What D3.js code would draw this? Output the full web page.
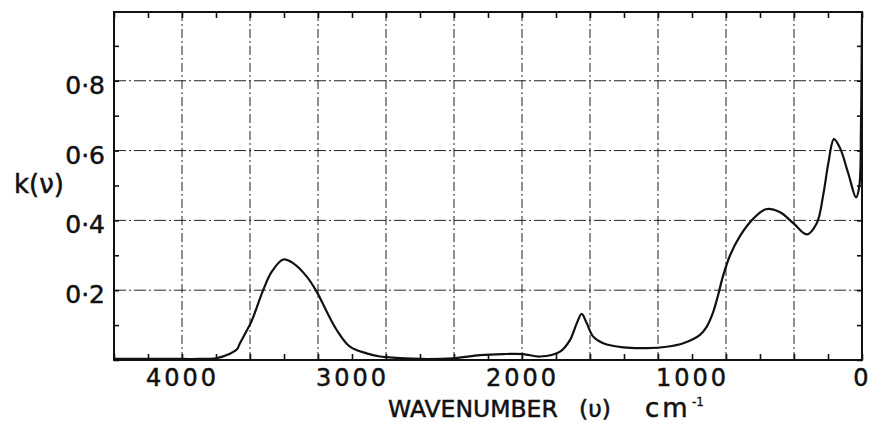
<!DOCTYPE html>
<html>
<head>
<meta charset="utf-8">
<script src="https://cdn.jsdelivr.net/npm/d3@7"></script>
<style>
  body { margin:0; background:#fff; }
  text { font-family:"DejaVu Sans", sans-serif; fill:#111; stroke:#111; stroke-width:0.5px; }
</style>
</head>
<body>
<div id="chart"></div>
<script>
let w=873;
let h=422;

// wavenumber (cm-1) and absorption index k
let wavenumber=[4400,4200,4000,3900,3800,3718,3678,3659,3618,3590,3522,3472,3404,3345,3266,3208,3149,3090,3012,2914,2835,2796,2600,2406,2247,2112,1994,1894,1776,1718,1678,1649,1619,1581,1522,1404,1266,1149,1051,953,914,875,847,816,776,718,639,565,482,404,325,266,228,198,165,129,81,35,16,6,2,0];
let kValues=[0.003,0.003,0.003,0.003,0.005,0.018,0.030,0.048,0.085,0.112,0.201,0.253,0.288,0.277,0.239,0.196,0.139,0.086,0.038,0.019,0.010,0.008,0.003,0.005,0.014,0.017,0.017,0.010,0.024,0.057,0.105,0.132,0.105,0.067,0.048,0.036,0.034,0.038,0.048,0.072,0.095,0.138,0.185,0.243,0.300,0.355,0.405,0.432,0.423,0.392,0.360,0.392,0.473,0.564,0.633,0.607,0.535,0.466,0.497,0.668,0.86,0.99];

let xTickLabels=[4000,3000,2000,1000,0];
let yTickLabels=[0.2,0.4,0.6,0.8];
let xGrid=[4000,3600,3200,2800,2400,2000,1600,1200,800,400];
let yGrid=[0.2,0.4,0.6,0.8];

let padLeft=114, padRight=862, padTop=12, padBottom=360;

let svg=d3.select("#chart").append("svg")
  .attr("width",w)
  .attr("height",h);

let xScale=d3.scaleLinear().domain([4400,0]).range([padLeft,padRight]);
let yScale=d3.scaleLinear().domain([0,0.997]).range([padBottom,padTop]);

// grid
svg.append("g").selectAll("line").data(xGrid).enter()
  .append("line")
  .attr("x1",d=>xScale(d)).attr("x2",d=>xScale(d))
  .attr("y1",padTop).attr("y2",padBottom)
  .attr("stroke","#222")
  .attr("stroke-width",1)
  .attr("stroke-dasharray","9,3,2,3");

svg.append("g").selectAll("line").data(yGrid).enter()
  .append("line")
  .attr("y1",d=>yScale(d)).attr("y2",d=>yScale(d))
  .attr("x1",padLeft).attr("x2",padRight)
  .attr("stroke","#222")
  .attr("stroke-width",1)
  .attr("stroke-dasharray","12,3,2,3");

// inward ticks on all four sides
let xTicks=d3.range(4400,-1,-200);
let yTicks=d3.range(0,1.0,0.1);

svg.append("g").attr("transform","translate(0,"+padBottom+")")
  .call(d3.axisTop(xScale).tickValues(xTicks).tickSize(6).tickFormat(""))
  .call(g=>g.select(".domain").remove());
svg.append("g").attr("transform","translate(0,"+padTop+")")
  .call(d3.axisBottom(xScale).tickValues(xTicks).tickSize(6).tickFormat(""))
  .call(g=>g.select(".domain").remove());
svg.append("g").attr("transform","translate("+padLeft+",0)")
  .call(d3.axisRight(yScale).tickValues(yTicks).tickSize(5).tickFormat(""))
  .call(g=>g.select(".domain").remove());
svg.append("g").attr("transform","translate("+padRight+",0)")
  .call(d3.axisLeft(yScale).tickValues(yTicks).tickSize(5).tickFormat(""))
  .call(g=>g.select(".domain").remove());
svg.selectAll(".tick line").attr("stroke","#111").attr("stroke-width",1.6);

// frame
svg.append("rect")
  .attr("x",padLeft).attr("y",padTop)
  .attr("width",padRight-padLeft).attr("height",padBottom-padTop)
  .attr("fill","none")
  .attr("stroke","#111")
  .attr("stroke-width",2);

// tick labels
let xLab=svg.append("g").attr("transform","translate(0,"+padBottom+")")
  .call(d3.axisBottom(xScale).tickValues(xTickLabels).tickSize(0).tickPadding(9).tickFormat(d3.format("d")));
xLab.select(".domain").remove();
xLab.selectAll("text")
  .style("font-family","'DejaVu Sans', sans-serif")
  .style("font-size","24px")
  .style("letter-spacing","3px")
  .attr("fill","#111");

let yLab=svg.append("g").attr("transform","translate("+padLeft+",0)")
  .call(d3.axisLeft(yScale).tickValues(yTickLabels).tickSize(0).tickPadding(9)
    .tickFormat(d=>d3.format(".1f")(d).replace(".","·")));
yLab.select(".domain").remove();
yLab.selectAll("text")
  .style("font-family","'DejaVu Sans', sans-serif")
  .style("font-size","25px")
  .attr("dy","0.5em")
  .attr("fill","#111");

// curve
let points=wavenumber.map((v,i)=>[v,kValues[i]]);
let line=d3.line()
  .x(d=>xScale(d[0]))
  .y(d=>yScale(d[1]))
  .curve(d3.curveCatmullRom.alpha(0.5));

svg.append("path")
  .datum(points)
  .attr("d",line)
  .attr("fill","none")
  .attr("stroke","#111")
  .attr("stroke-width",2.2);

// axis titles
svg.append("text")
  .attr("x",14).attr("y",193)
  .style("font-size","26px")
  .text("k(ν)");

svg.append("text")
  .attr("x",388).attr("y",417)
  .style("font-size","23.5px")
  .text("WAVENUMBER");
svg.append("text")
  .attr("x",579).attr("y",417)
  .style("font-size","23.5px")
  .text("(υ)");
svg.append("text")
  .attr("x",645).attr("y",417)
  .style("font-size","26px")
  .style("letter-spacing","3px")
  .text("cm");
svg.append("text")
  .attr("x",692).attr("y",406)
  .style("font-size","12px")
  .style("stroke-width","0.3px")
  .text("-1");
</script>
</body>
</html>
